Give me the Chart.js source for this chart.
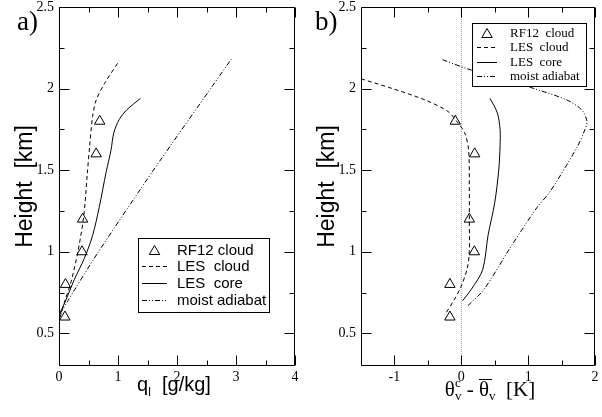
<!DOCTYPE html>
<html>
<head>
<meta charset="utf-8">
<script src="https://cdn.jsdelivr.net/npm/chart.js@4.4.1/dist/chart.umd.min.js"></script>
<style>
    html, body { margin: 0; padding: 0; background: #fff; }
    #wrap { position: relative; width: 602px; height: 417px; }
    #wrap canvas { position: absolute; top: 0; }
    #chart-ql { left: 0; }
    #chart-theta { left: 302px; }
    #frames { left: 0; pointer-events: none; }
</style>
</head>
<body>
<div id="wrap">
    <canvas id="chart-ql" width="302" height="417"></canvas>
    <canvas id="chart-theta" width="300" height="417"></canvas>
    <canvas id="frames" width="602" height="417"></canvas>
</div>
<script>
// ---- shared axis values ----
const yTicks = [0.5, 1, 1.5, 2, 2.5];
const yMinor = [0.75, 1.25, 1.75, 2.25];

// ---- panel a) liquid water ----
const rfHeight = [0.6, 0.8, 1.0, 1.2, 1.6, 1.8];
const rfQl = [0.1, 0.11, 0.39, 0.40, 0.63, 0.69];

const lesCloudZa = [0.6, 0.7, 0.81, 1.0, 1.22, 1.48, 1.65, 1.83, 1.93, 2.03, 2.17];
const lesCloudQl = [0.02, 0.1, 0.2, 0.32, 0.42, 0.48, 0.52, 0.57, 0.63, 0.77, 1.02];

const lesCoreZa = [0.62, 0.69, 0.83, 0.96, 1.1, 1.27, 1.49, 1.62, 1.73, 1.81, 1.87, 1.94];
const lesCoreQl = [0.01, 0.1, 0.26, 0.43, 0.57, 0.68, 0.8, 0.88, 0.93, 1.02, 1.15, 1.38];

const adiabatZa = [0.62, 0.7, 0.99, 1.5, 2.18];
const adiabatQl = [0.02, 0.15, 0.65, 1.6, 2.92];

const xTicksA = [0, 1, 2, 3, 4];
const xMinorA = [0.5, 1.5, 2.5, 3.5];

// ---- panel b) virtual potential temperature excess ----
const rfDtheta = [-0.17, -0.17, 0.195, 0.12, 0.2, -0.09];

const lesCloudZb = [0.63, 0.71, 0.79, 0.9, 1.0, 1.2, 1.4, 1.62, 1.73, 1.79, 1.86, 1.93, 2.0, 2.06];
const lesCloudDth = [-0.22, -0.1, 0.0, 0.09, 0.12, 0.12, 0.12, 0.11, 0.05, -0.05, -0.2, -0.54, -1.03, -1.5];

const lesCoreZb = [0.7, 0.77, 0.89, 1.1, 1.3, 1.5, 1.65, 1.75, 1.85, 1.94];
const lesCoreDth = [0.02, 0.15, 0.32, 0.4, 0.5, 0.56, 0.58, 0.58, 0.54, 0.43];

const adiabatZb = [0.67, 0.77, 1.03, 1.27, 1.37, 1.64, 1.75, 1.8, 1.87, 1.93, 2.0, 2.07, 2.12, 2.18];
const adiabatDth = [0.1, 0.34, 0.74, 1.13, 1.33, 1.73, 1.85, 1.88, 1.8, 1.58, 1.09, 0.54, 0.1, -0.3];

const zeroX = [0, 0];
const zeroZ = [0.3, 2.5];

const xTicksB = [-1, 0, 1, 2];
const xMinorB = [-0.5, 0.5, 1.5];

const pts = (xs, ys) => xs.map((v, i) => ({ x: v, y: ys[i] }));

const SERIF = '"Liberation Serif", "Times New Roman", serif';
const SANS = '"Liberation Sans", Arial, sans-serif';

function seg(ctx, x1, y1, x2, y2) {
    ctx.beginPath();
    ctx.moveTo(x1, y1);
    ctx.lineTo(x2, y2);
    ctx.stroke();
}

function triangle(ctx, x, y, r) {
    ctx.beginPath();
    ctx.moveTo(x, y - r);
    ctx.lineTo(x + r * 0.866, y + r / 2);
    ctx.lineTo(x - r * 0.866, y + r / 2);
    ctx.closePath();
    ctx.stroke();
}

// legend box, panel letter, x title
function decoPlugin(deco) {
    return {
        id: 'panelDeco',
        afterDatasetsDraw(chart) {
            const ctx = chart.ctx;
            const a = chart.chartArea;
            ctx.save();
            const lg = deco.legend;
            ctx.fillStyle = '#fff';
            ctx.fillRect(lg.x, lg.y, lg.w, lg.h);
            ctx.strokeStyle = '#000';
            ctx.lineWidth = 1;
            ctx.strokeRect(lg.x + 0.5, lg.y + 0.5, lg.w, lg.h);
            chart.data.datasets.filter(d => d.label).forEach((d, i) => {
                const cy = Math.round(lg.y + lg.first + i * lg.row) + 0.5;
                ctx.strokeStyle = '#000';
                ctx.lineWidth = 1;
                if (!d.showLine) {
                    ctx.setLineDash([]);
                    triangle(ctx, lg.symX + lg.symW / 2, cy + 1, d.pointRadius);
                } else {
                    ctx.setLineDash(d.borderDash || []);
                    seg(ctx, lg.symX, cy, lg.symX + lg.symW, cy);
                }
                ctx.fillStyle = '#000';
                ctx.font = lg.font;
                ctx.textBaseline = 'middle';
                ctx.textAlign = 'left';
                ctx.fillText(d.label, lg.textX, cy);
            });
            ctx.setLineDash([]);

            ctx.fillStyle = '#000';
            ctx.font = '27px ' + SERIF;
            ctx.textBaseline = 'alphabetic';
            ctx.fillText(deco.letter.t, deco.letter.x, deco.letter.y);

            const runs = deco.xTitle.runs;
            let total = 0;
            runs.forEach(r => { ctx.font = r.f; r.w = ctx.measureText(r.t).width; if (r.adv !== false) total += r.w; });
            let cx = (a.left + a.right) / 2 + deco.xTitle.dx - total / 2;
            const base = deco.xTitle.y;
            runs.forEach(r => {
                ctx.font = r.f;
                ctx.fillText(r.t, cx, base + (r.dy || 0));
                if (r.over) seg(ctx, cx, base - 16.5, cx + r.w + 3, base - 16.5);
                if (r.adv !== false) cx += r.w;
            });
            ctx.restore();
        }
    };
}

function makePanel(id, cfg) {
    const chart = new Chart(document.getElementById(id), {
        type: 'scatter',
        data: { datasets: cfg.datasets },
        options: {
            responsive: false,
            animation: false,
            devicePixelRatio: 1,
            layout: { padding: cfg.padding },
            plugins: { legend: { display: false }, tooltip: { enabled: false } },
            scales: {
                x: {
                    type: 'linear', min: cfg.xMin, max: cfg.xMax,
                    grid: { display: false, drawTicks: false }, border: { display: false },
                    ticks: { color: '#000', padding: 3, font: { family: SERIF, size: 14 }, callback: v => String(v) },
                    afterBuildTicks: s => { s.ticks = cfg.xTicks.map(v => ({ value: v })); },
                    afterFit: s => { s.height = 51; s.paddingLeft = 0; s.paddingRight = 0; }
                },
                y: {
                    type: 'linear', min: 0.3, max: 2.5,
                    grid: { display: false, drawTicks: false }, border: { display: false },
                    ticks: { color: '#000', padding: 5, font: { family: SERIF, size: 14 }, callback: v => String(v) },
                    afterBuildTicks: s => { s.ticks = yTicks.map(v => ({ value: v })); },
                    afterFit: s => { s.width = 59; s.paddingTop = 0; s.paddingBottom = 0; },
                    title: { display: true, text: 'Height  [km]', color: '#000',
                        font: { family: SANS, size: 23, lineHeight: 1 }, padding: { top: 14, bottom: 0 } }
                }
            }
        },
        plugins: [decoPlugin(cfg.deco)]
    });
    chart.$minorX = cfg.deco.xMinor;
    chart.$majorX = cfg.xTicks;
    return chart;
}

// frame + inward ticks on all four sides, drawn on a top canvas from each chart's scales
function drawFrames(charts) {
    const fc = document.getElementById('frames');
    const ctx = fc.getContext('2d');
    ctx.strokeStyle = '#000';
    ctx.lineWidth = 1;
    charts.forEach(chart => {
        const off = chart.canvas.offsetLeft;
        const a = chart.chartArea;
        const sx = chart.scales.x, sy = chart.scales.y;
        const L = Math.round(a.left + off) + 0.5, R = Math.round(a.right + off) - 0.5;
        const T = Math.round(a.top) + 0.5, B = Math.round(a.bottom) - 0.5;
        seg(ctx, L, T, R, T);
        seg(ctx, R, T, R, B);
        seg(ctx, R, B, L, B);
        seg(ctx, L, B, L, T);
        chart.$majorX.concat(chart.$minorX).forEach((v, i) => {
            const len = i < chart.$majorX.length ? 10 : 5;
            const px = Math.round(sx.getPixelForValue(v) + off) + 0.5;
            seg(ctx, px, B, px, B - len);
            seg(ctx, px, T, px, T + len);
        });
        yTicks.concat(yMinor).forEach((v, i) => {
            const len = i < yTicks.length ? 10 : 5;
            const py = Math.round(sy.getPixelForValue(v)) + 0.5;
            seg(ctx, L, py, L + len, py);
            seg(ctx, R, py, R - len, py);
        });
    });
}

const lineStyle = (label, data, dash, tension) => ({
    label, data, showLine: true, borderColor: '#000', backgroundColor: '#000',
    borderWidth: 1, borderDash: dash, pointRadius: 0, tension: tension, fill: false
});
const triStyle = (label, data) => ({
    label, data, showLine: false, pointStyle: 'triangle', pointRadius: 6,
    borderColor: '#000', backgroundColor: 'rgba(0,0,0,0)', pointBorderWidth: 1, borderWidth: 1
});
const DASH = [4, 3];
const DASHDOT = [5, 2, 1, 2, 1, 2];

const chartA = makePanel('chart-ql', {
    padding: { left: 0, top: 7, right: 5, bottom: 0 },
    xMin: 0, xMax: 4, xTicks: xTicksA,
    datasets: [
        triStyle('RF12 cloud', pts(rfQl, rfHeight)),
        lineStyle('LES  cloud', pts(lesCloudQl, lesCloudZa), DASH, 0.3),
        lineStyle('LES  core', pts(lesCoreQl, lesCoreZa), [], 0.3),
        lineStyle('moist adiabat', pts(adiabatQl, adiabatZa), DASHDOT, 0.2)
    ],
    deco: {
        xMinor: xMinorA,
        legend: { x: 138, y: 238, w: 131, h: 74, first: 11.5, row: 16.7, symX: 142, symW: 25, textX: 177, font: '15px ' + SANS },
        letter: { t: 'a)', x: 17, y: 30 },
        xTitle: { y: 391, dx: -3, runs: [
            { t: 'q', f: '20px ' + SANS },
            { t: 'l', f: '12px ' + SANS, dy: 5 },
            { t: '  [g/kg]', f: '20px ' + SANS }
        ] }
    }
});

const chartB = makePanel('chart-theta', {
    padding: { left: 0, top: 7, right: 4, bottom: 0 },
    xMin: -1.5, xMax: 2, xTicks: xTicksB,
    datasets: [
        triStyle('RF12  cloud', pts(rfDtheta, rfHeight)),
        lineStyle('LES  cloud', pts(lesCloudDth, lesCloudZb), DASH, 0.3),
        lineStyle('LES  core', pts(lesCoreDth, lesCoreZb), [], 0.3),
        lineStyle('moist adiabat', pts(adiabatDth, adiabatZb), DASHDOT, 0.3),
        { data: pts(zeroX, zeroZ), showLine: true, borderColor: '#999', borderWidth: 1, borderDash: [1, 1], pointRadius: 0 }
    ],
    deco: {
        xMinor: xMinorB,
        legend: { x: 170, y: 23, w: 114, h: 63, first: 10, row: 14.3, symX: 175, symW: 20, textX: 208, font: '13px ' + SERIF },
        letter: { t: 'b)', x: 13, y: 30 },
        xTitle: { y: 396, dx: 12, runs: [
            { t: 'θ', f: '21px ' + SERIF },
            { t: 'c', f: '13px ' + SERIF, dy: -9, adv: false },
            { t: 'v', f: '13px ' + SERIF, dy: 4 },
            { t: ' - ', f: '21px ' + SERIF },
            { t: 'θ', f: '21px ' + SERIF, over: true },
            { t: 'v', f: '13px ' + SERIF, dy: 4 },
            { t: '  [K]', f: '21px ' + SERIF }
        ] }
    }
});

drawFrames([chartA, chartB]);
</script>
</body>
</html>
